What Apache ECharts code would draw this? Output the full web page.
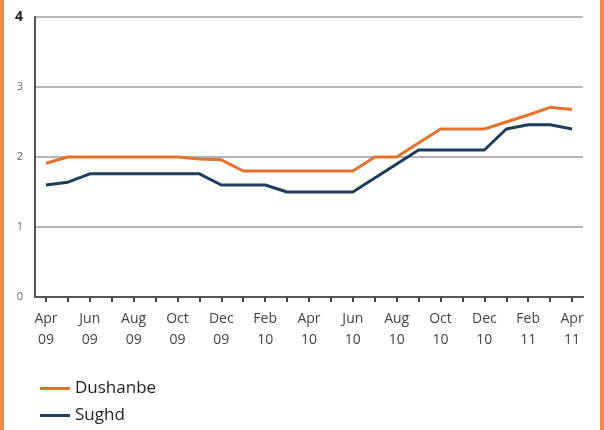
<!DOCTYPE html>
<html>
<head>
<meta charset="utf-8">
<script src="https://cdn.jsdelivr.net/npm/echarts@6/dist/echarts.min.js"></script>
<style>
html,body{margin:0;padding:0;background:#fff;}
#chart{width:604px;height:430px;}
</style>
</head>
<body>
<div id="chart"></div>
<script>
var months = ["Apr","May","Jun","Jul","Aug","Sep","Oct","Nov","Dec","Jan","Feb","Mar",
              "Apr","May","Jun","Jul","Aug","Sep","Oct","Nov","Dec","Jan","Feb","Mar","Apr"];
var years = ["09","09","09","09","09","09","09","09","09","10","10","10",
             "10","10","10","10","10","10","10","10","10","11","11","11","11"];
var dushanbe = [1.91,2.0,2.0,2.0,2.0,2.0,2.0,1.97,1.96,1.8,1.8,1.8,1.8,1.8,1.8,2.0,2.0,2.2,2.4,2.4,2.4,2.5,2.6,2.71,2.68];
var sughd = [1.6,1.64,1.76,1.76,1.76,1.76,1.76,1.76,1.6,1.6,1.6,1.5,1.5,1.5,1.5,1.7,1.9,2.1,2.1,2.1,2.1,2.4,2.46,2.46,2.4];
var yTicks = [0,1,2,3,4];

var categories = months.map(function(m,i){return m + "\n" + years[i];});
var font = "'Open Sans', sans-serif";
var legendText = {fontFamily:font,fontSize:17,color:'#222',padding:[0,0,0,0]};
var chart = echarts.init(document.getElementById('chart'));
chart.setOption({
  animation:false,
  backgroundColor:'#fff',
  graphic:[
    {type:'rect', shape:{x:0,y:0,width:4,height:430}, style:{fill:'#ef8a4a'}},
    {type:'rect', shape:{x:600,y:0,width:4,height:430}, style:{fill:'#ef8a4a'}}
  ],
  grid:{left:35,right:21,top:17,bottom:133,containLabel:false},
  legend:[{
    left:35, top:375, itemWidth:30, itemHeight:3, itemGap:10, icon:'rect',
    textStyle:legendText, data:['Dushanbe']
  },{
    left:35, top:402, itemWidth:30, itemHeight:3, itemGap:10, icon:'rect',
    textStyle:legendText, data:['Sughd']
  }],
  xAxis:[{
    type:'category', data:categories, boundaryGap:true,
    axisLine:{lineStyle:{color:'#555',width:2}},
    axisTick:{alignWithLabel:true, interval:1, length:8, lineStyle:{color:'#444',width:2}},
    axisLabel:{interval:1, color:'#444', fontFamily:font, fontSize:14, lineHeight:21, margin:12},
    splitLine:{show:false}
  },{
    type:'category', data:categories, boundaryGap:true, position:'bottom',
    axisLine:{show:true, lineStyle:{color:'#555',width:2}},
    axisTick:{show:true, alignWithLabel:true, interval:0, length:5, lineStyle:{color:'#444',width:2}},
    axisLabel:{show:false}
  }],
  yAxis:{
    type:'value', min:0, max:4, interval:1,
    axisLine:{show:true, lineStyle:{color:'#555',width:2}},
    axisTick:{show:false},
    axisLabel:{
      margin:12, fontFamily:font,
      formatter:function(v){ return v===4 ? '{b|4}' : '{n|'+v+'}'; },
      rich:{b:{fontSize:14,fontWeight:'bold',color:'#222',fontFamily:font},
            n:{fontSize:11,color:'#666',fontFamily:font}}
    },
    splitLine:{lineStyle:{color:'#b5b5b5',width:2}}
  },
  series:[{
    name:'Dushanbe', type:'line', data:dushanbe, showSymbol:false, symbol:'none',
    lineStyle:{color:'#e4732e',width:3}, itemStyle:{color:'#e4732e'}, z:3
  },{
    name:'Sughd', type:'line', data:sughd, showSymbol:false, symbol:'none',
    lineStyle:{color:'#1e3d59',width:3}, itemStyle:{color:'#1e3d59'}, z:2
  }]
});
</script>
</body>
</html>
